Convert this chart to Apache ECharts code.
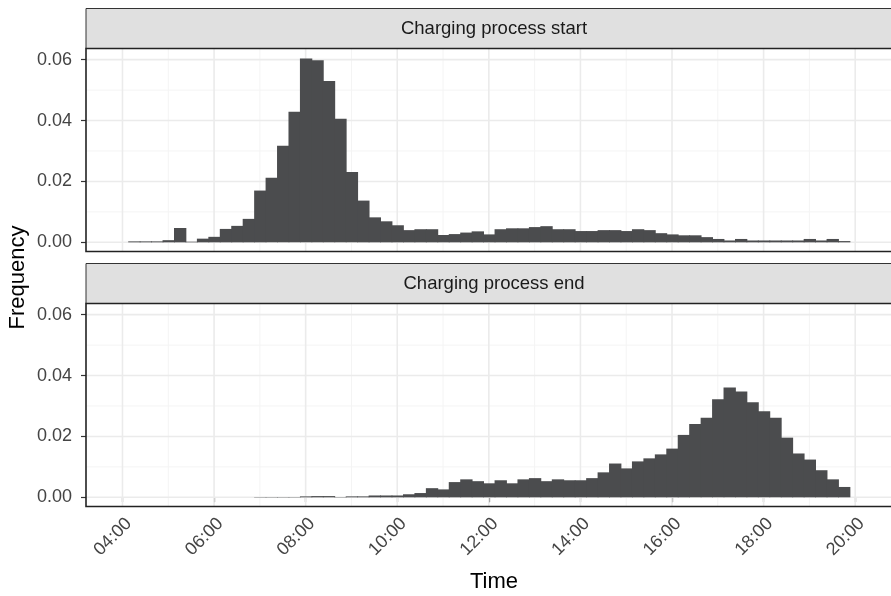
<!DOCTYPE html>
<html><head><meta charset="utf-8">
<script src="https://cdn.jsdelivr.net/npm/echarts@6/dist/echarts.min.js"></script>
<style>html,body{margin:0;padding:0;background:#fff}#c{width:891px;height:596px}</style>
</head><body><div id="c"></div>
<script>
// ---- data ----
const panelTitles = ['Charging process start', 'Charging process end'];
const startBins = ['04:15','04:30','04:45','05:00','05:15','05:30','05:45','06:00','06:15','06:30','06:45',
  '07:00','07:15','07:30','07:45','08:00','08:15','08:30','08:45','09:00','09:15','09:30','09:45',
  '10:00','10:15','10:30','10:45','11:00','11:15','11:30','11:45','12:00','12:15','12:30','12:45',
  '13:00','13:15','13:30','13:45','14:00','14:15','14:30','14:45','15:00','15:15','15:30','15:45',
  '16:00','16:15','16:30','16:45','17:00','17:15','17:30','17:45','18:00','18:15','18:30','18:45',
  '19:00','19:15','19:30','19:45'];
const startFreq = [0.0003,0.0003,0.0003,0.0007,0.0047,0.0002,0.0012,0.0018,0.0044,0.0054,0.0077,
  0.0170,0.0212,0.0317,0.0429,0.0604,0.0598,0.0530,0.0406,0.0231,0.0137,0.0082,0.0069,
  0.0056,0.0040,0.0043,0.0043,0.0024,0.0027,0.0032,0.0036,0.0026,0.0043,0.0046,0.0046,
  0.0050,0.0053,0.0043,0.0043,0.0037,0.0037,0.0040,0.0040,0.0037,0.0043,0.0040,0.0030,
  0.0026,0.0023,0.0023,0.0017,0.0011,0.0006,0.0011,0.0006,0.0006,0.0006,0.0006,0.0006,
  0.0011,0.0006,0.0011,0.0004];
const endBins = ['07:00','07:15','07:30','07:45','08:00','08:15','08:30','08:45','09:00','09:15','09:30','09:45',
  '10:00','10:15','10:30','10:45','11:00','11:15','11:30','11:45','12:00','12:15','12:30','12:45',
  '13:00','13:15','13:30','13:45','14:00','14:15','14:30','14:45','15:00','15:15','15:30','15:45',
  '16:00','16:15','16:30','16:45','17:00','17:15','17:30','17:45','18:00','18:15','18:30','18:45',
  '19:00','19:15','19:30','19:45'];
const endFreq = [0.0001,0.0001,0.0001,0.0001,0.0003,0.0004,0.0004,0.0001,0.0003,0.0003,0.0006,0.0006,
  0.0006,0.0010,0.0014,0.0030,0.0026,0.0050,0.0059,0.0053,0.0046,0.0056,0.0046,0.0059,
  0.0063,0.0053,0.0059,0.0056,0.0056,0.0063,0.0082,0.0111,0.0095,0.0118,0.0128,0.0141,
  0.0160,0.0205,0.0241,0.0261,0.0322,0.0361,0.0348,0.0312,0.0283,0.0261,0.0196,0.0144,
  0.0124,0.0089,0.0059,0.0034];
const binWidthHours = 0.25;
const xTickLabels = ['04:00','06:00','08:00','10:00','12:00','14:00','16:00','18:00','20:00'];
const xMinorLabels = ['05:00','07:00','09:00','11:00','13:00','15:00','17:00','19:00'];
const yTickValues = [0, 0.02, 0.04, 0.06];
const yMinorValues = [0.01, 0.03, 0.05];
const xTitle = 'Time';
const yTitle = 'Frequency';

// ---- helpers ----
function toHours(s){ const p = s.split(':').map(Number); return p[0] + p[1]/60; }
const xMajor = xTickLabels.map(toHours);
const xMinor = xMinorLabels.map(toHours);
const labelByHour = {}; xTickLabels.forEach(l => labelByHour[toHours(l)] = l);

const FONT = "'Liberation Sans', Arial, sans-serif";
const BAR = '#4b4c4e';
const X_MIN = 3.2034, X_MAX = 20.782;
const Y_MIN = -0.00302, Y_MAX = 0.06367;
const PANEL_LEFT = 86, PANEL_W = 816, PANEL_H = 203;
const PANEL_TOPS = [48.5, 303.5];
const STRIP_H = 40;

function barSeries(idx, bins, vals){
  return {
    type: 'custom', xAxisIndex: idx, yAxisIndex: idx, z: 3, silent: true,
    data: bins.map((b, i) => [toHours(b), vals[i]]),
    renderItem(params, api){
      const x = api.value(0), y = api.value(1);
      const p0 = api.coord([x - binWidthHours/2, y]);
      const p1 = api.coord([x + binWidthHours/2, 0]);
      return { type: 'rect',
        shape: { x: p0[0], y: p0[1], width: p1[0] - p0[0] + 0.9, height: p1[1] - p0[1] },
        style: { fill: BAR } };
    }
  };
}
function gridSeries(idx, values, dir, color, width){
  return {
    type: 'custom', xAxisIndex: idx, yAxisIndex: idx, z: 1, silent: true,
    data: values.map(v => [v]),
    renderItem(params, api){
      const cs = params.coordSys; const v = api.value(0);
      let shape;
      if (dir === 'h'){ const y = api.coord([X_MIN, v])[1]; shape = {x1: cs.x, y1: y, x2: cs.x + cs.width, y2: y}; }
      else { const x = api.coord([v, 0])[0]; shape = {x1: x, y1: cs.y, x2: x, y2: cs.y + cs.height}; }
      return { type: 'line', shape, style: { stroke: color, lineWidth: width } };
    }
  };
}

const grids = PANEL_TOPS.map(t => ({ left: PANEL_LEFT, top: t, width: PANEL_W, height: PANEL_H, containLabel: false }));
const xAxes = [0,1].map(i => ({
  type: 'value', gridIndex: i, min: X_MIN, max: X_MAX,
  axisLine: { show: false }, splitLine: { show: false },
  axisTick: { show: i === 1, customValues: xMajor, length: 5, lineStyle: { color: '#333', width: 1.2 } },
  axisLabel: { show: i === 1, customValues: xMajor, rotate: 45, align: 'right', verticalAlign: 'top', margin: 8,
    fontFamily: FONT, fontSize: 18, color: '#444', formatter: v => labelByHour[v] || '' }
}));
const yAxes = [0,1].map(i => ({
  type: 'value', gridIndex: i, min: Y_MIN, max: Y_MAX,
  axisLine: { show: false }, splitLine: { show: false },
  axisTick: { show: true, customValues: yTickValues, length: 5, lineStyle: { color: '#333', width: 1.2 } },
  axisLabel: { customValues: yTickValues, margin: 14, fontFamily: FONT, fontSize: 18, color: '#444',
    formatter: v => v.toFixed(2) }
}));

const series = [];
[0,1].forEach(i => {
  series.push(gridSeries(i, yMinorValues, 'h', '#f4f4f4', 1));
  series.push(gridSeries(i, xMinor, 'v', '#f4f4f4', 1));
  series.push(gridSeries(i, yTickValues, 'h', '#ebebeb', 1.6));
  series.push(gridSeries(i, xMajor, 'v', '#ebebeb', 1.6));
});
series.push(barSeries(0, startBins, startFreq));
series.push(barSeries(1, endBins, endFreq));

const graphic = [];
PANEL_TOPS.forEach((t, i) => {
  graphic.push({ type: 'rect', z: 100, shape: { x: PANEL_LEFT, y: t - STRIP_H, width: PANEL_W, height: STRIP_H },
    style: { fill: '#e0e0e0', stroke: '#333', lineWidth: 1 } });
  graphic.push({ type: 'text', z: 101, x: PANEL_LEFT + PANEL_W/2, y: t - STRIP_H/2,
    style: { text: panelTitles[i], fontFamily: FONT, fontSize: 18.5, fill: '#1a1a1a', textAlign: 'center', textVerticalAlign: 'middle' } });
  graphic.push({ type: 'rect', z: 102, shape: { x: PANEL_LEFT, y: t, width: PANEL_W, height: PANEL_H },
    style: { fill: null, stroke: '#222', lineWidth: 1.6 } });
});
graphic.push({ type: 'text', z: 101, x: PANEL_LEFT + PANEL_W/2, y: 582,
  style: { text: xTitle, fontFamily: FONT, fontSize: 22, fill: '#000', textAlign: 'center', textVerticalAlign: 'middle' } });
graphic.push({ type: 'text', z: 101, x: 18, y: 277.5, rotation: Math.PI/2,
  style: { text: yTitle, fontFamily: FONT, fontSize: 22, fill: '#000', textAlign: 'center', textVerticalAlign: 'middle' } });

const chart = echarts.init(document.getElementById('c'), null, { renderer: 'canvas' });
chart.setOption({ animation: false, backgroundColor: '#fff', grid: grids, xAxis: xAxes, yAxis: yAxes, series, graphic });
</script></body></html>
